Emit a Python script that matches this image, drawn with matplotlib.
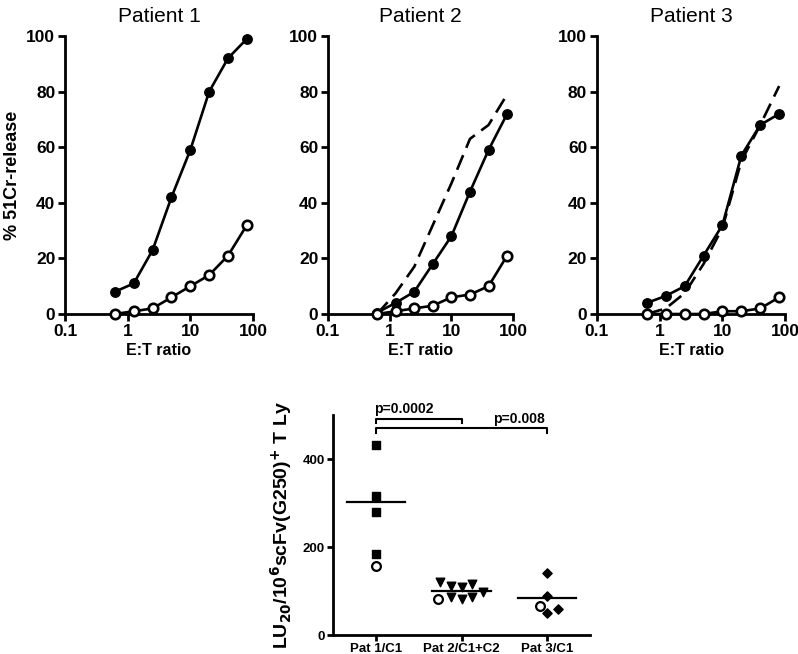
import matplotlib
matplotlib.use("Agg")
import matplotlib.pyplot as plt
import numpy as np

plt.rcParams['font.family'] = ['Liberation Sans', 'DejaVu Sans']

# ---- data ----
et_ratio = [0.625, 1.25, 2.5, 5, 10, 20, 40, 80]
titles = ["Patient 1", "Patient 2", "Patient 3"]
filled = [
    [8, 11, 23, 42, 59, 80, 92, 99],
    [0.5, 4, 8, 18, 28, 44, 59, 72],
    [4, 6.5, 10, 21, 32, 57, 68, 72],
]
open_ = [
    [0, 1, 2, 6, 10, 14, 21, 32],
    [0, 1, 2, 3, 6, 7, 10, 21],
    [0, 0, 0, 0, 1, 1, 2, 6],
]
dashed = [
    None,
    [0, 7.5, 17, 32, 47, 63, 68, 79],
    [0, 2, 7.5, 18, 31, 55, 68, 82],
]
xticks = [0.1, 1, 10, 100]
xtick_labels = ["0.1", "1", "10", "100"]
yticks = [0, 20, 40, 60, 80, 100]

groups = ["Pat 1/C1", "Pat 2/C1+C2", "Pat 3/C1"]
pat1_sq = [432, 315, 279, 185]
pat1_open = [156]
pat2_tri = [120, 112, 108, 116, 98, 86, 82, 86]
pat2_tri_dx = [-0.25, -0.125, 0, 0.125, 0.25, -0.125, 0, 0.125]
pat2_open = [82]
pat3_dia = [142, 89, 59, 50]
pat3_dia_dx = [0, 0, 0.13, 0]
pat3_open = [67]
pvals = ["p=0.0002", "p=0.008"]

fig = plt.figure(figsize=(7.98, 6.54), dpi=100)

pos = [(0.0815, 0.317), (0.411, 0.643), (0.748, 0.984)]
bottom, top = 1 - 314/654, 1 - 36/654
for i in range(3):
    x0, x1 = pos[i]
    ax = fig.add_axes([x0, bottom, x1 - x0, top - bottom])
    ax.plot(et_ratio, filled[i], color='black', lw=1.9, marker='o', ms=6.8,
            mfc='black', mec='black', clip_on=False, zorder=3)
    ax.plot(et_ratio, open_[i], color='black', lw=1.9, marker='o', ms=6.8,
            mfc='white', mec='black', mew=1.9, clip_on=False, zorder=3)
    if dashed[i] is not None:
        ax.plot(et_ratio, dashed[i], color='black', lw=1.9, ls=(0, (6, 3)),
                clip_on=False, zorder=2)
    ax.set_xscale('log')
    ax.set_xlim(0.1, 100)
    ax.set_ylim(0, 100)
    ax.set_xticks(xticks)
    ax.set_xticklabels(xtick_labels)
    ax.xaxis.set_minor_locator(matplotlib.ticker.NullLocator())
    ax.set_yticks(yticks)
    for s in ['top', 'right']:
        ax.spines[s].set_visible(False)
    for s in ['left', 'bottom']:
        ax.spines[s].set_linewidth(2)
    ax.tick_params(direction='out', width=2, length=5, labelsize=12.5, pad=2)
    for lab in ax.get_xticklabels() + ax.get_yticklabels():
        lab.set_fontweight('bold')
    ax.set_title(titles[i], fontsize=15, pad=10)
    ax.set_xlabel("E:T ratio", fontsize=11.5, fontweight='bold', labelpad=3)
    if i == 0:
        ax.set_ylabel("% 51Cr-release", fontsize=13, fontweight='bold', labelpad=3.5)

# ---- bottom panel ----
bx0, bx1 = 333/798, 590/798
bb, bt = 1 - 635/654, 1 - 415/654
ax = fig.add_axes([bx0, bb, bx1 - bx0, bt - bb])
ax.scatter(np.full(len(pat1_sq), 1), pat1_sq, marker='s', s=28, color='black', zorder=3)
ax.scatter([1], pat1_open, marker='o', s=40, facecolor='white', edgecolor='black',
           linewidth=1.6, zorder=3)
ax.scatter(2 + np.array(pat2_tri_dx), pat2_tri, marker='v', s=38, color='black', zorder=3)
ax.scatter([2 - 0.27], pat2_open, marker='o', s=40, facecolor='white', edgecolor='black',
           linewidth=1.6, zorder=3)
ax.scatter(3 + np.array(pat3_dia_dx), pat3_dia, marker='D', s=22, color='black', zorder=3)
ax.scatter([3 - 0.08], pat3_open, marker='o', s=40, facecolor='white', edgecolor='black',
           linewidth=1.6, zorder=3)
means = [np.mean(pat1_sq), np.mean(pat2_tri), np.mean(pat3_dia)]
for k, m in enumerate(means):
    ax.plot([k + 1 - 0.34, k + 1 + 0.34], [m, m], color='black', lw=1.6, zorder=2)

# significance brackets
ax.plot([1, 1, 2, 2], [482, 491, 491, 482], color='black', lw=1.5, clip_on=False)
ax.plot([1, 1, 3, 3], [460, 470, 470, 460], color='black', lw=1.5, clip_on=False)
ax.text(1.32, 513, pvals[0], ha='center', va='center', fontsize=10, fontweight='bold')
ax.text(2.67, 490, pvals[1], ha='center', va='center', fontsize=10, fontweight='bold')

ax.set_xlim(0.5, 3.5)
ax.set_ylim(0, 500)
ax.set_yticks([0, 200, 400])
ax.set_xticks([1, 2, 3])
ax.set_xticklabels(groups)
for s in ['top', 'right']:
    ax.spines[s].set_visible(False)
for s in ['left', 'bottom']:
    ax.spines[s].set_linewidth(2)
ax.tick_params(direction='out', width=2, length=4, labelsize=9.5, pad=2)
for lab in ax.get_xticklabels() + ax.get_yticklabels():
    lab.set_fontweight('bold')
ax.set_ylabel(r"LU$_{\mathbf{20}}$/10$^{\mathbf{6}}$scFv(G250)$^{\mathbf{+}}$ T Ly",
              fontsize=14, fontweight='bold', labelpad=6)

fig.savefig("out.png", dpi=100)
